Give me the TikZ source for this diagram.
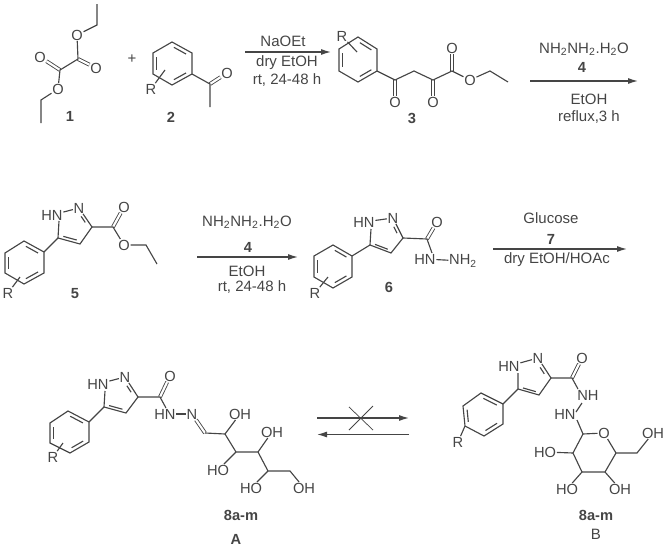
\documentclass[tikz,border=0pt]{standalone}
\usepackage{fontspec}
\setmainfont{Liberation Sans}
\usetikzlibrary{calc,arrows.meta}
\definecolor{ink}{gray}{0.27}
\tikzset{
  bond/.style={line width=0.85pt, color=ink},
  dbond/.style={line width=0.65pt, color=ink, double=white, double distance=1.6pt},
  atom/.style={font=\fontsize{11}{12}\selectfont, text=ink, inner sep=0.4pt},
  reagent/.style={font=\fontsize{11.25}{12}\selectfont, text=ink, inner sep=0pt},
  cpd/.style={font=\bfseries\fontsize{11}{12}\selectfont, text=ink, inner sep=0pt},
  rxn/.style={line width=0.9pt, color=ink, -{Latex[length=7.5pt,width=4.5pt]}}
}
% inner line of a double bond, pulled towards the centre of its ring
\newcommand\innerbond[4][.12]{\draw[bond] ($($(#2)!.2!(#4)$)!#1!($(#3)!.2!(#4)$)$) -- ($($(#3)!.2!(#4)$)!#1!($(#2)!.2!(#4)$)$);}
% six vertices clockwise from the top one
\newcommand\phenyl[7]{
  \coordinate (#1a) at (#2); \coordinate (#1b) at (#3); \coordinate (#1c) at (#4);
  \coordinate (#1d) at (#5); \coordinate (#1e) at (#6); \coordinate (#1f) at (#7);
  \coordinate (#1o) at ($(#1a)!.5!(#1d)$);
  \draw[bond] (#1a) -- (#1b) -- (#1c) -- (#1d) -- (#1e) -- (#1f) -- cycle;
  \innerbond{#1a}{#1b}{#1o}
  \innerbond{#1c}{#1d}{#1o}
  \innerbond{#1e}{#1f}{#1o}
}
\begin{document}
\begin{tikzpicture}[x=0.75pt,y=-0.75pt]
	\useasboundingbox (0,0) rectangle (669,553);
	
	%%%%% compound 1 %%%%%
	\node[atom] (o1a) at (77,35) {O};
	\node[atom] (o1b) at (96,68) {O};
	\node[atom] (o1c) at (40,57) {O};
	\node[atom] (o1d) at (58,89) {O};
	\coordinate (c1a) at (78,59);
	\coordinate (c1b) at (60,70);
	\coordinate (c1c) at (97,4);
	\coordinate (c1d) at (97,25);
	\coordinate (c1e) at (41,100);
	\coordinate (c1f) at (41,123);
	\draw[dbond] (c1a) -- (o1b);
	\draw[dbond] (c1b) -- (o1c);
	\draw[bond] (c1c) -- (c1d) -- (o1a) -- (c1a) -- (c1b) -- (o1d) -- (c1e) -- (c1f);
	\node[cpd] (l1) at (70,116) {1};
	
	\node[reagent] (plus) at (132,59) {+};
	
	%%%%% compound 2 %%%%%
	\phenyl{p2}{172,42}{192,53}{192,74}{172,85}{153,74}{153,53}
	\node[atom] (r2) at (151,89) {R};
	\coordinate (r2x) at (165,70);
	\node[atom] (o2) at (227,73) {O};
	\coordinate (c2a) at (210,84);
	\coordinate (c2b) at (210,107);
	\draw[dbond] (c2a) -- (o2);
	\draw[bond] (p2c) -- (c2a) -- (c2b);
	\draw[bond] (r2) -- (r2x);
	\node[cpd] (l2) at (171,117) {2};
	
	%%%%% first arrow %%%%%
	\coordinate (a1s) at (245,52);
	\coordinate (a1e) at (331,52);
	\draw[rxn] (a1s) -- (a1e);
	\node[reagent] (t1a) at (283,41) {NaOEt};
	\node[reagent] (t1b) at (287,63) {dry EtOH};
	\node[reagent] (t1c) at (287,80) {rt, 24-48 h};
	
	%%%%% compound 3 %%%%%
	\phenyl{p3}{358,37}{377,49}{377,71}{358,82}{339,71}{339,49}
	\node[atom] (r3) at (342,36) {R};
	\coordinate (r3x) at (357,52);
	\draw[bond] (r3) -- (r3x);
	\node[atom] (o3a) at (395,102) {O};
	\node[atom] (o3b) at (433,102) {O};
	\node[atom] (o3c) at (452,48) {O};
	\node[atom] (o3d) at (470,80) {O};
	\coordinate (c3a) at (395,80);
	\coordinate (c3b) at (414,71);
	\coordinate (c3c) at (433,80);
	\coordinate (c3d) at (452,71);
	\coordinate (c3e) at (490,71);
	\coordinate (c3f) at (508,82);
	\draw[dbond] (c3a) -- (o3a);
	\draw[dbond] (c3c) -- (o3b);
	\draw[dbond] (c3d) -- (o3c);
	\draw[bond] (p3c) -- (c3a) -- (c3b) -- (c3c) -- (c3d) -- (o3d) -- (c3e) -- (c3f);
	\node[cpd] (l3) at (412,118) {3};
	
	%%%%% second arrow %%%%%
	\coordinate (a2s) at (530,81);
	\coordinate (a2e) at (638,81);
	\draw[rxn] (a2s) -- (a2e);
	\node[reagent] (t2a) at (584,49) {NH\textsubscript{2}NH\textsubscript{2}.H\textsubscript{2}O};
	\node[cpd] (t2b) at (582,67) {4};
	\node[reagent] (t2c) at (589,99) {EtOH};
	\node[reagent] (t2d) at (589,117) {reflux,3 h};
	
	%%%%% compound 5 %%%%%
	\phenyl{p5}{24,241}{44,252}{44,273}{24,284}{5,273}{5,253}
	\node[atom] (r5) at (8,293) {R};
	\coordinate (r5x) at (20,277);
	\draw[bond] (r5) -- (r5x);
	\node[atom] (hn5) at (52,215) {HN};
	\node[atom] (n5) at (79,208) {N};
	\node[atom] (o5a) at (124,207) {O};
	\node[atom] (o5b) at (124,245) {O};
	\coordinate (c5a) at (58,238);
	\coordinate (c5b) at (59,221);
	\coordinate (c5c) at (92,227);
	\coordinate (c5d) at (80,244);
	\coordinate (c5e) at (113,227);
	\coordinate (c5f) at (146,245);
	\coordinate (c5g) at (157,264);
	\coordinate (z5) at (74,227);
	\draw[dbond] (c5e) -- (o5a);
	\draw[bond] (p5b) -- (c5a) -- (c5b);
	\draw[bond] (hn5) -- (n5) -- (c5c) -- (c5d) -- (c5a);
	\draw[bond] (c5c) -- (c5e) -- (o5b) -- (c5f) -- (c5g);
	\innerbond[.3]{n5}{c5c}{z5}
	\innerbond{c5d}{c5a}{z5}
	\node[cpd] (l5) at (75,294) {5};
	
	%%%%% third arrow %%%%%
	\coordinate (a3s) at (197,257);
	\coordinate (a3e) at (298,257);
	\draw[rxn] (a3s) -- (a3e);
	\node[reagent] (t3a) at (247,222) {NH\textsubscript{2}NH\textsubscript{2}.H\textsubscript{2}O};
	\node[cpd] (t3b) at (248,247) {4};
	\node[reagent] (t3c) at (247,271) {EtOH};
	\node[reagent] (t3d) at (252,287) {rt, 24-48 h};
	
	%%%%% compound 6 %%%%%
	\phenyl{p6}{333,245}{352,256}{352,277}{333,288}{314,277}{314,256}
	\node[atom] (r6) at (315,293) {R};
	\coordinate (r6x) at (328,277);
	\draw[bond] (r6) -- (r6x);
	\node[atom] (hn6a) at (364,222) {HN};
	\node[atom] (n6) at (393,218) {N};
	\node[atom] (o6) at (437,222) {O};
	\node[atom] (hn6b) at (425,259) {HN};
	\node[atom] (nh6) at (463,261) {NH\textsubscript{2}};
	\coordinate (c6a) at (370,245);
	\coordinate (c6b) at (371,229);
	\coordinate (c6c) at (403,238);
	\coordinate (c6d) at (391,253);
	\coordinate (c6e) at (427,239);
	\coordinate (c6f) at (432,253);
	\coordinate (z6) at (385,238);
	\draw[dbond] (c6e) -- (o6);
	\draw[bond] (p6b) -- (c6a) -- (c6b);
	\draw[bond] (hn6a) -- (n6) -- (c6c) -- (c6d) -- (c6a);
	\draw[bond] (c6c) -- (c6e) -- (c6f);
	\draw[bond] (hn6b) -- (nh6);
	\innerbond[.3]{n6}{c6c}{z6}
	\innerbond{c6d}{c6a}{z6}
	\node[cpd] (l6) at (389,287) {6};
	
	%%%%% fourth arrow %%%%%
	\coordinate (a4s) at (493,249);
	\coordinate (a4e) at (627,249);
	\draw[rxn] (a4s) -- (a4e);
	\node[reagent] (t4a) at (551,218) {Glucose};
	\node[cpd] (t4b) at (551,239) {7};
	\node[reagent] (t4c) at (557,260) {dry EtOH/HOAc};
	
	%%%%% compound A %%%%%
	\phenyl{pa}{68,411}{89,422}{89,442}{70,453}{50,443}{50,423}
	\node[atom] (ra) at (53,457) {R};
	\coordinate (rax) at (63,443);
	\draw[bond] (ra) -- (rax);
	\node[atom] (hna) at (98,384) {HN};
	\node[atom] (na) at (125,377) {N};
	\node[atom] (oa) at (170,376) {O};
	\node[atom] (hnb) at (165,414) {HN};
	\node[atom] (nb) at (192,414) {N};
	\node[atom] (oha) at (240,414) {OH};
	\node[atom] (ohb) at (272,432) {OH};
	\node[atom] (ohc) at (218,470) {HO};
	\node[atom] (ohd) at (251,488) {HO};
	\node[atom] (ohe) at (304,488) {OH};
	\coordinate (caa) at (104,407);
	\coordinate (cab) at (105,391);
	\coordinate (cac) at (138,397);
	\coordinate (cad) at (126,413);
	\coordinate (cae) at (160,397);
	\coordinate (caf) at (166,408);
	\coordinate (cag) at (205,433);
	\coordinate (cah) at (225,434);
	\coordinate (cai) at (236,452);
	\coordinate (caj) at (258,452);
	\coordinate (cak) at (268,471);
	\coordinate (cal) at (290,471);
	\coordinate (zaa) at (119,397);
	\draw[dbond] (cae) -- (oa);
	\draw[dbond] (nb) -- (cag);
	\draw[bond] (pab) -- (caa) -- (cab);
	\draw[bond] (hna) -- (na) -- (cac) -- (cad) -- (caa);
	\draw[bond] (cac) -- (cae) -- (caf);
	\draw[bond] (hnb) -- (nb);
	\draw[bond] (cag) -- (cah) -- (cai) -- (caj) -- (cak) -- (cal) -- (ohe);
	\draw[bond] (cah) -- (oha);
	\draw[bond] (cai) -- (ohc);
	\draw[bond] (caj) -- (ohb);
	\draw[bond] (cak) -- (ohd);
	\innerbond[.3]{na}{cac}{zaa}
	\innerbond{cad}{caa}{zaa}
	\node[cpd] (la) at (241,515) {8a-m};
	\node[cpd] (lab) at (236,539) {A};
	
	%%%%% equilibrium arrows %%%%%
	\coordinate (eqas) at (317,418);
	\coordinate (eqae) at (409,418);
	\coordinate (eqbs) at (409,434.5);
	\coordinate (eqbe) at (317,434.5);
	\coordinate (xa) at (349,407);
	\coordinate (xb) at (373,430);
	\coordinate (xc) at (373,406);
	\coordinate (xd) at (349,430);
	\draw[rxn] (eqas) -- (eqae);
	\draw[rxn] (eqbs) -- (eqbe);
	\draw[bond,line width=0.55pt] (xa) -- (xb);
	\draw[bond,line width=0.55pt] (xc) -- (xd);
	
	%%%%% compound B %%%%%
	\phenyl{pb}{481,393}{503,404}{503,424}{484,436}{465,426}{463,406}
	\node[atom] (rb) at (458,442) {R};
	\draw[bond] (rb) -- (pbe);
	\node[atom] (hnc) at (509,366) {HN};
	\node[atom] (nc) at (538,358) {N};
	\node[atom] (ob) at (582,358) {O};
	\node[atom] (hnd) at (588,395) {NH};
	\node[atom] (hne) at (565,414) {HN};
	\node[atom] (oc) at (604,433) {O};
	\node[atom] (ohf) at (653,433) {OH};
	\node[atom] (ohg) at (545,452) {HO};
	\node[atom] (ohh) at (567,489) {HO};
	\node[atom] (ohi) at (620,489) {OH};
	\coordinate (cba) at (518,389);
	\coordinate (cbb) at (518,373);
	\coordinate (cbc) at (551,378);
	\coordinate (cbd) at (539,395);
	\coordinate (cbe) at (572,378);
	\coordinate (cbf) at (578,389);
	\coordinate (cbg) at (582,403);
	\coordinate (cbh) at (576,412);
	\coordinate (cbi) at (577,420);
	\coordinate (cbj) at (583,434);
	\coordinate (cbk) at (616,453);
	\coordinate (cbl) at (637,453);
	\coordinate (cbm) at (605,472);
	\coordinate (cbn) at (582,472);
	\coordinate (cbo) at (573,453);
	\coordinate (zba) at (533,381);
	\draw[dbond] (cbe) -- (ob);
	\draw[bond] (pbb) -- (cba) -- (cbb);
	\draw[bond] (hnc) -- (nc) -- (cbc) -- (cbd) -- (cba);
	\draw[bond] (cbc) -- (cbe) -- (cbf);
	\draw[bond] (cbg) -- (cbh);
	\draw[bond] (cbi) -- (cbj) -- (oc) -- (cbk) -- (cbl) -- (ohf);
	\draw[bond] (cbk) -- (cbm) -- (cbn) -- (cbo) -- (cbj);
	\draw[bond] (cbo) -- (ohg);
	\draw[bond] (cbn) -- (ohh);
	\draw[bond] (cbm) -- (ohi);
	\innerbond[.3]{nc}{cbc}{zba}
	\innerbond{cbd}{cba}{zba}
	\node[cpd] (lb) at (596,515) {8a-m};
	\node[reagent] (lbb) at (596,534) {B};
\end{tikzpicture}
\end{document}
